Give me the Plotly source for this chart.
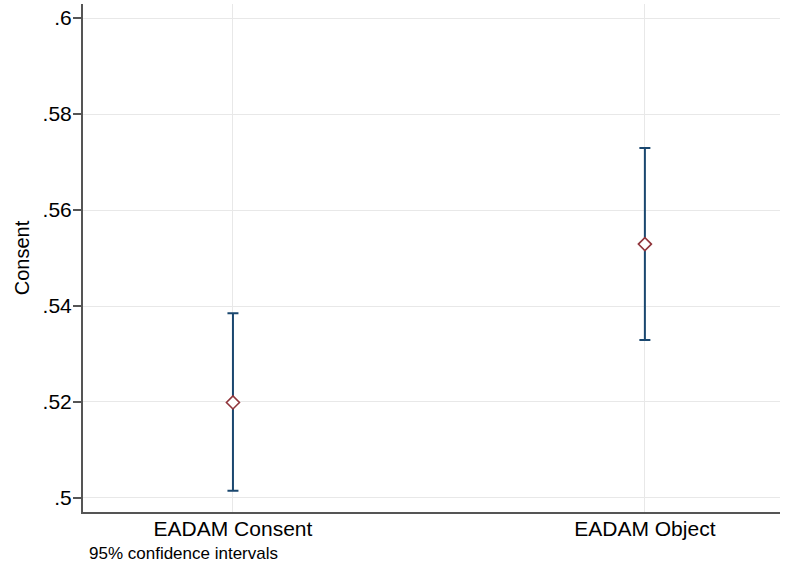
import plotly.graph_objects as go

categories = ["EADAM Consent", "EADAM Object"]
means = [0.5199, 0.5529]
ci_upper = [0.5385, 0.5729]
ci_lower = [0.5015, 0.5329]
y_tickvals = [0.5, 0.52, 0.54, 0.56, 0.58, 0.6]
y_ticktext = [".5", ".52", ".54", ".56", ".58", ".6"]

err_plus = [u - m for u, m in zip(ci_upper, means)]
err_minus = [m - l for m, l in zip(means, ci_lower)]

FONT = "Liberation Sans, Arial, sans-serif"

fig = go.Figure()
fig.add_trace(go.Scatter(
    x=categories, y=means, mode="markers",
    marker=dict(symbol="diamond", size=10, color="white",
                line=dict(color="#90353b", width=1.6)),
    error_y=dict(type="data", symmetric=False, array=err_plus, arrayminus=err_minus,
                 color="#1a476f", thickness=2, width=5.5),
    showlegend=False,
))

fig.update_layout(
    width=786, height=568,
    margin=dict(l=83, r=6, t=4, b=56),
    paper_bgcolor="white", plot_bgcolor="white",
    font=dict(family=FONT, color="black"),
    xaxis=dict(
        type="category", range=[-0.364, 1.328],
        showline=True, linecolor="#555555", linewidth=2,
        showgrid=True, gridcolor="#e8e8e8", gridwidth=1,
        ticks="", tickfont=dict(size=21, color="black"),
        ticklabelstandoff=-3,
        zeroline=False,
    ),
    yaxis=dict(
        range=[0.49708, 0.60292],
        tickvals=y_tickvals, ticktext=y_ticktext,
        showline=True, linecolor="#555555", linewidth=2,
        showgrid=True, gridcolor="#e8e8e8", gridwidth=1,
        ticks="outside", ticklen=8, tickcolor="#555555", tickwidth=1.5,
        tickfont=dict(size=21, color="black"),
        ticklabelstandoff=-3,
        zeroline=False,
        title=dict(text="Consent", font=dict(size=20, color="black"), standoff=8),
    ),
    annotations=[dict(
        text="95% confidence intervals", xref="paper", yref="paper",
        x=4/697, y=-(553-512)/508, xanchor="left", yanchor="middle",
        showarrow=False, font=dict(size=17, color="black"),
    )],
)

fig.write_html("out.html", config={"displayModeBar": False},
               post_script="document.body.style.margin='0';")
